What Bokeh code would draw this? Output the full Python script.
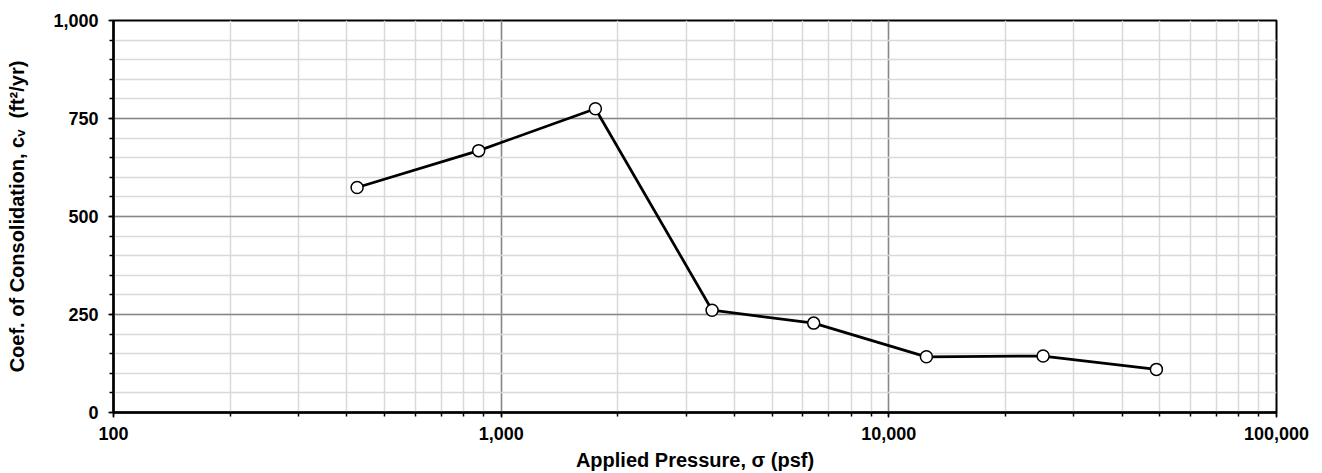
from bokeh.plotting import figure
from bokeh.models import FixedTicker, NumeralTickFormatter, LogTicker, Range1d
from bokeh.embed import file_html
from bokeh.resources import INLINE

pressure_psf = [425, 875, 1750, 3500, 6400, 12500, 25000, 49000]
cv_ft2_yr = [574, 668, 775, 261, 228, 142, 144, 110]
x_major_ticks = [100, 1000, 10000, 100000]
y_major_ticks = [0, 250, 500, 750, 1000]

p = figure(width=1322, height=473, x_axis_type="log",
           x_range=Range1d(100, 100000), y_range=Range1d(0, 1000),
           output_backend="svg", toolbar_location=None,
           min_border_left=113, min_border_top=20, min_border_right=46, min_border_bottom=61)

p.outline_line_color = "black"
p.outline_line_width = 2
p.background_fill_color = "white"
p.border_fill_color = "white"

xa = p.xaxis[0]
xa.ticker = LogTicker(desired_num_ticks=4, num_minor_ticks=10)
xa.formatter = NumeralTickFormatter(format="0,0")
xa.axis_label = "Applied Pressure, σ (psf)"
ya = p.yaxis[0]
ya.ticker = FixedTicker(ticks=y_major_ticks, minor_ticks=list(range(0, 1001, 50)))
ya.formatter = NumeralTickFormatter(format="0,0")
ya.axis_label = "Coef. of Consolidation, c\u1d65\u00a0 (ft²/yr)"

for ax in (xa, ya):
    ax.axis_line_color = "black"
    ax.axis_line_width = 2.5
    ax.major_tick_line_color = "black"
    ax.minor_tick_line_color = "black"
    ax.major_tick_line_width = 1.5
    ax.minor_tick_line_width = 1.5
    ax.major_tick_out = 5
    ax.major_tick_in = 0
    ax.minor_tick_out = 4
    ax.minor_tick_in = 0
    ax.major_label_text_font = "Liberation Sans"
    ax.major_label_text_font_style = "bold"
    ax.major_label_text_font_size = "18px"
    ax.major_label_text_color = "black"
    ax.axis_label_text_font = "Liberation Sans"
    ax.axis_label_text_font_style = "bold"
    ax.axis_label_text_font_size = "20px"
    ax.axis_label_text_color = "black"

xa.major_label_standoff = 9
xa.axis_label_standoff = 6
ya.major_label_standoff = 10
ya.axis_label_standoff = 22

for g in (p.xgrid[0], p.ygrid[0]):
    g.grid_line_color = "#878787"
    g.grid_line_width = 1.5
    g.minor_grid_line_color = "#d9d9d9"
    g.minor_grid_line_width = 1.5
p.xgrid[0].ticker = xa.ticker
p.ygrid[0].ticker = ya.ticker

p.line(pressure_psf, cv_ft2_yr, line_color="black", line_width=2.75)
p.scatter(pressure_psf, cv_ft2_yr, marker="circle", size=12,
          fill_color="white", line_color="black", line_width=1.5)

open("out.html", "w").write(file_html(p, INLINE))
